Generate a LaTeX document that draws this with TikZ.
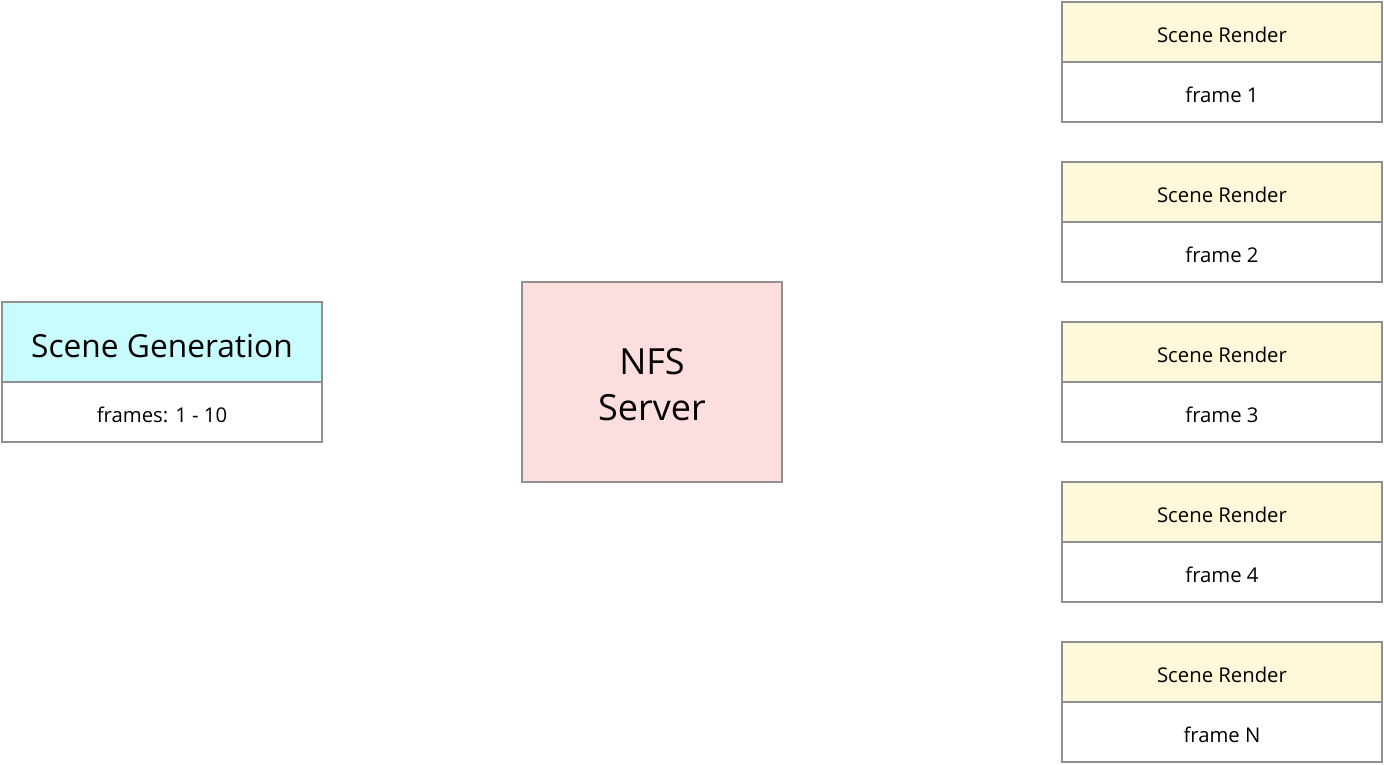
\documentclass[tikz,border=0pt]{standalone}
\usepackage{fontspec}
\setmainfont{Open Sans}
\definecolor{bordergray}{HTML}{909090}
\definecolor{genfill}{HTML}{C8FCFF}
\definecolor{nfsfill}{HTML}{FDDEDE}
\definecolor{renfill}{HTML}{FFF8DB}
\newcommand{\dn}[2]{\raisebox{-#1}[\height][\depth]{#2}}
\begin{document}
\begin{tikzpicture}[x=1pt,y=-1pt,
  cell/.style={draw=bordergray, line width=2pt, rectangle, anchor=north west, inner sep=0pt, outer sep=0pt, align=center},
  small/.style={font=\fontsize{20.3}{24}\selectfont},
  big/.style={font=\fontsize{31.7}{36}\selectfont},
  huge/.style={font=\fontsize{36}{46}\selectfont}]
\useasboundingbox (0,0) rectangle (1384,764);
% Scene generation
\node[cell, fill=genfill, big, minimum width=320pt, minimum height=80pt] (genh) at (2,302) {\dn{4pt}{Scene Generation}};
\node[cell, fill=white, small, minimum width=320pt, minimum height=60pt] (genb) at (2,382) {\dn{3pt}{frames: 1 - 10}};
% NFS server
\node[cell, fill=nfsfill, huge, minimum width=260pt, minimum height=200pt] (nfs) at (522,282) {\dn{6.5pt}{\begin{tabular}{@{}c@{}}NFS\\Server\end{tabular}}};
% Scene renders
\foreach \i/\t/\lab in {1/2/frame 1, 2/162/frame 2, 3/322/frame 3, 4/482/frame 4, 5/642/frame N}{
  \node[cell, fill=renfill, small, minimum width=320pt, minimum height=60pt] (r\i h) at (1062,\t) {\dn{3pt}{Scene Render}};
  \node[cell, fill=white, small, minimum width=320pt, minimum height=60pt] (r\i b) at (1062,\t+60) {\dn{3pt}{\lab}};
}
\end{tikzpicture}
\end{document}
